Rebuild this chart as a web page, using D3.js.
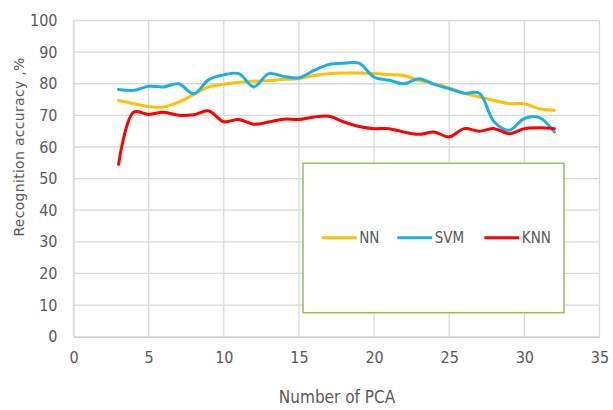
<!DOCTYPE html>
<html><head><meta charset="utf-8">
<script src="https://cdn.jsdelivr.net/npm/d3@7"></script>
<style>
html,body{margin:0;padding:0;background:#fff;}
svg{display:block;}
.cond{font-family:'DejaVu Sans Condensed','DejaVu Sans',sans-serif;font-stretch:condensed;}
</style></head>
<body>
<svg id="chart" width="613" height="410"></svg>
<script>
const pcaCounts = [3,4,5,6,7,8,9,10,11,12,13,14,15,16,17,18,19,20,21,22,23,24,25,26,27,28,29,30,31,32];
const nnValues  = [74.7,73.7,72.8,72.6,74.2,76.6,79.0,79.8,80.5,80.8,81.0,81.4,81.6,82.6,83.2,83.4,83.4,83.2,82.9,82.6,81.0,80.0,78.7,77.0,75.8,74.7,73.7,73.7,72.1,71.6];
const svmValues = [78.2,77.9,79.2,79.0,80.0,76.8,81.3,82.8,83.2,79.0,83.2,82.3,81.9,84.2,86.1,86.5,86.5,82.1,81.1,80.0,81.6,79.8,78.4,77.0,77.0,67.9,65.3,69.0,69.3,64.7];
const knnValues = [54.5,71.0,70.3,71.0,70.0,70.2,71.4,68.0,68.7,67.2,67.9,68.8,68.7,69.5,69.7,67.9,66.5,65.8,65.8,64.7,64.0,64.7,63.2,65.8,65.0,65.8,64.2,65.8,66.1,65.8];
const seriesNames = ["NN","SVM","KNN"];
const seriesColors = ["#FFC000","#1AAFE6","#FF0000"];
const xTicks = [0,5,10,15,20,25,30,35];
const yTicks = [0,10,20,30,40,50,60,70,80,90,100];
const xTitle = "Number of PCA";
const yTitle = "Recognition accuracy ,%";

(function(){
const svg = d3.select("#chart");
const pLeft = 73.5, pRight = 599.5, pTop = 20.5, pBottom = 336.7;
const x = d3.scaleLinear().domain([0,35]).range([pLeft,pRight]);
const y = d3.scaleLinear().domain([0,100]).range([pBottom,pTop]);

const textColor = "#595959";

// gridlines
svg.append("g").selectAll("line").data(yTicks.filter(d=>d>0)).join("line")
  .attr("x1",pLeft).attr("x2",pRight).attr("y1",d=>y(d)).attr("y2",d=>y(d))
  .attr("stroke","#d9d9d9").attr("stroke-width",1.3);
svg.append("g").selectAll("line").data(xTicks).join("line")
  .attr("x1",d=>x(d)).attr("x2",d=>x(d)).attr("y1",pTop).attr("y2",pBottom)
  .attr("stroke","#d9d9d9").attr("stroke-width",1.3);

// axes
const xAxis = d3.axisBottom(x).tickValues(xTicks).tickSize(0).tickPadding(15);
const gx = svg.append("g").attr("transform",`translate(0,${pBottom})`).call(xAxis);
gx.select(".domain").attr("stroke","#bfbfbf").attr("stroke-width",1.3);
gx.selectAll("text").attr("class","cond").attr("font-size",16).attr("fill",textColor);

const yAxis = d3.axisLeft(y).tickValues(yTicks).tickSize(0).tickPadding(16);
const gy = svg.append("g").attr("transform",`translate(${pLeft},0)`).call(yAxis);
gy.select(".domain").attr("stroke","#d9d9d9").attr("stroke-width",1.3);
gy.selectAll("text").attr("class","cond").attr("font-size",16).attr("fill",textColor);

// titles
svg.append("text").attr("class","cond").attr("x",337).attr("y",403).attr("text-anchor","middle")
  .attr("font-size",17).attr("fill",textColor).text(xTitle);
svg.append("text").attr("transform",`translate(24,147) rotate(-90)`)
  .attr("text-anchor","middle").attr("font-family","'DejaVu Sans',sans-serif")
  .attr("font-size",14).attr("letter-spacing",0.3).attr("fill",textColor).text(yTitle);

// lines
const allSeries = [nnValues, svmValues, knnValues];
const line = d3.line().x((d,i)=>x(pcaCounts[i])).y(d=>y(d)).curve(d3.curveCatmullRom.alpha(0.5));
svg.append("g").selectAll("path").data(allSeries).join("path")
  .attr("d",d=>line(d)).attr("fill","none")
  .attr("stroke",(d,i)=>seriesColors[i]).attr("stroke-width",3)
  .attr("stroke-linejoin","round").attr("stroke-linecap","round");

// legend
const lg = svg.append("g");
lg.append("rect").attr("x",303).attr("y",163.3).attr("width",261).attr("height",149.4)
  .attr("fill","#fff").attr("stroke","#9BBB59").attr("stroke-width",1.5);
const legX = [321.7, 397.3, 484.3];
const ly = 237.7;
seriesNames.forEach((name,i)=>{
  lg.append("line").attr("x1",legX[i]).attr("x2",legX[i]+35).attr("y1",ly).attr("y2",ly)
    .attr("stroke",seriesColors[i]).attr("stroke-width",3);
  lg.append("text").attr("class","cond").attr("x",legX[i]+37.5).attr("y",ly+5.5)
    .attr("font-size",15).attr("fill",textColor).text(name);
});
})();
</script>
</body></html>
